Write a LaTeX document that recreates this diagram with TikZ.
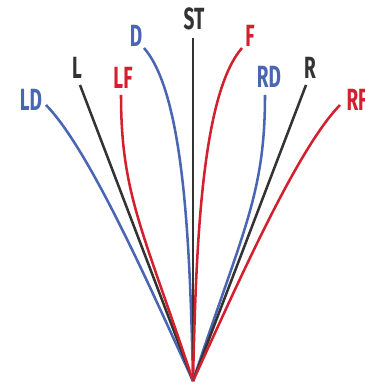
\documentclass[tikz,border=0pt]{standalone}
\usepackage{fontspec}
\usepackage{graphicx}
\usepackage{tikz}
\setmainfont{Fira Sans}
\definecolor{rayblue}{HTML}{4A66B2}
\definecolor{rayred}{HTML}{D2202F}
\definecolor{rayblack}{HTML}{333333}
\newcommand{\cond}[1]{\scalebox{0.62}[1]{#1}}
\tikzset{lbl/.style = {font = \bfseries\fontsize{23}{23}\selectfont, inner sep = 0}}
\tikzset{ray/.style = {line width = 1.9pt}}

\begin{document}
\begin{tikzpicture}[x = 0.75pt, y = -0.75pt]
      \useasboundingbox (0, 0) rectangle (364, 384);
      \coordinate (base) at (193, 381);

      % labels
      \node [lbl, rayblue] (LD) at (31, 100) {\cond{LD}};
      \node [lbl, rayblack] (L) at (77, 68) {\cond{L}};
      \node [lbl, rayred] (LF) at (123, 78) {\cond{LF}};
      \node [lbl, rayblue] (D) at (136, 36) {\cond{D}};
      \node [lbl, rayblack] (ST) at (194, 19) {\cond{ST}};
      \node [lbl, rayred] (F) at (250, 36) {\cond{F}};
      \node [lbl, rayblue] (RD) at (269, 77) {\cond{RD}};
      \node [lbl, rayblack] (R) at (310, 68) {\cond{R}};
      \node [lbl, rayred] (RF) at (357, 100) {\cond{RF}};

      % tops of the rays
      \coordinate (tLD) at (46, 105);
      \coordinate (tL) at (80, 85);
      \coordinate (tLF) at (121, 95);
      \coordinate (tD) at (144, 48);
      \coordinate (tST) at (193, 38);
      \coordinate (tF) at (242, 48);
      \coordinate (tRD) at (265, 95);
      \coordinate (tR) at (306, 85);
      \coordinate (tRF) at (340, 105);

      \draw [ray, rayblue] (tLD) .. controls (90, 150) and (151.6, 291) .. (base);
      \draw [ray, rayblack] (tL) -- (base);
      \draw [ray, rayred] (tLF) .. controls (121, 195) and (143.5, 231) .. (base);
      \draw [ray, rayblue] (tD) .. controls (185, 95) and (190, 250) .. (base);
      \draw [ray, rayblack] (tST) -- (base);
      \draw [ray, rayred] (tF) .. controls (201, 95) and (196, 250) .. (base);
      \draw [ray, rayblue] (tRD) .. controls (265, 195) and (242.5, 231) .. (base);
      \draw [ray, rayblack] (tR) -- (base);
      \draw [ray, rayred] (tRF) .. controls (296, 150) and (234.4, 291) .. (base);
    \end{tikzpicture}
\end{document}
